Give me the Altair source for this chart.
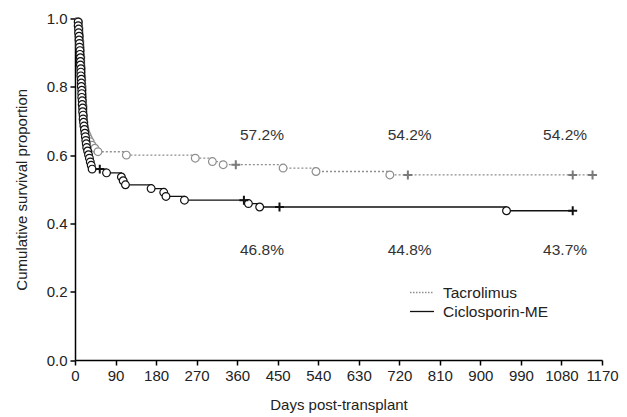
import altair as alt
import pandas as pd

# ---------------- data ----------------
x_ticks = [0, 90, 180, 270, 360, 450, 540, 630, 720, 810, 900, 990, 1080, 1170]
y_ticks = [0.0, 0.2, 0.4, 0.6, 0.8, 1.0]

tacro_event_days = [8, 8, 9, 9, 10, 10, 11, 11, 12, 12,
                    12, 13, 13, 13, 14, 14, 14, 15, 15, 15,
                    16, 16, 16, 17, 17, 17, 18, 18, 18, 19,
                    19, 20, 20, 22, 24, 27, 30, 34, 38, 44, 51,
                    114, 267, 305, 329, 462, 535, 699]
tacro_event_surv = [0.990, 0.981, 0.971, 0.962, 0.952, 0.943, 0.933, 0.924, 0.914, 0.905,
                    0.895, 0.886, 0.876, 0.867, 0.857, 0.848, 0.838, 0.829, 0.819, 0.810,
                    0.800, 0.791, 0.781, 0.772, 0.762, 0.753, 0.743, 0.734, 0.724, 0.715,
                    0.705, 0.696, 0.686, 0.677, 0.667, 0.658, 0.648, 0.639, 0.629, 0.620, 0.610,
                    0.600, 0.591, 0.581, 0.572, 0.562, 0.552, 0.542]
tacro_censor_days = [357, 739, 1105, 1149]
tacro_censor_surv = [0.572, 0.542, 0.542, 0.542]

ciclo_event_days = [7, 7, 8, 8, 9, 9, 10, 10, 11, 11,
                    12, 12, 12, 13, 13, 13, 14, 14, 14, 15,
                    15, 15, 16, 16, 17, 17, 18, 18, 19, 20,
                    21, 22, 23, 24, 25, 26, 28, 30, 32, 34, 36, 38,
                    70, 103, 107, 112, 169, 197, 202, 243, 385, 410, 958]
ciclo_event_surv = [0.990, 0.979, 0.969, 0.958, 0.948, 0.937, 0.927, 0.916, 0.906, 0.895,
                    0.885, 0.874, 0.864, 0.853, 0.843, 0.832, 0.822, 0.811, 0.801, 0.790,
                    0.780, 0.769, 0.759, 0.748, 0.738, 0.727, 0.717, 0.706, 0.696, 0.685,
                    0.675, 0.664, 0.654, 0.643, 0.633, 0.622, 0.612, 0.601, 0.591, 0.580,
                    0.570, 0.559,
                    0.548, 0.536, 0.525, 0.513, 0.502, 0.491, 0.479, 0.468, 0.458, 0.448, 0.437]
ciclo_censor_days = [55, 375, 454, 1105]
ciclo_censor_surv = [0.559, 0.468, 0.448, 0.437]

label_days = [415, 743, 1088]
tacro_labels = ["57.2%", "54.2%", "54.2%"]
ciclo_labels = ["46.8%", "44.8%", "43.7%"]
tacro_label_y = 0.659
ciclo_label_y = 0.322

series_names = ["Tacrolimus", "Ciclosporin-ME"]

# ---------------- styling ----------------
TAC = "#8e8e8e"
CIC = "#111111"
FONT = "Liberation Sans"
W, H = 527, 341.5

xs = alt.Scale(domain=[0, 1170], nice=False)
ys = alt.Scale(domain=[0, 1], nice=False)


def curve(days, surv, cdays, csurv):
    pts = [(0, 1.0)] + list(zip(days, surv)) + list(zip(cdays, csurv))
    pts.sort(key=lambda p: (p[0], -p[1]))
    return pd.DataFrame(pts, columns=["day", "surv"])


tac_line_df = curve(tacro_event_days, tacro_event_surv, tacro_censor_days, tacro_censor_surv)
cic_line_df = curve(ciclo_event_days, ciclo_event_surv, ciclo_censor_days, ciclo_censor_surv)
tac_ev = pd.DataFrame({"day": tacro_event_days, "surv": tacro_event_surv})
cic_ev = pd.DataFrame({"day": ciclo_event_days, "surv": ciclo_event_surv})
tac_ce = pd.DataFrame({"day": tacro_censor_days, "surv": tacro_censor_surv})
cic_ce = pd.DataFrame({"day": ciclo_censor_days, "surv": ciclo_censor_surv})

X = alt.X("day:Q", scale=xs, axis=alt.Axis(values=x_ticks, format="d", title="Days post-transplant",
                                            labelFlush=False, titlePadding=14, grid=False))
Y = alt.Y("surv:Q", scale=ys, axis=alt.Axis(values=y_ticks, format=".1f",
                                             title="Cumulative survival proportion",
                                             titlePadding=17, grid=False))

cic_line = alt.Chart(cic_line_df).mark_line(interpolate="step-after", color=CIC,
                                            strokeWidth=1.3).encode(x=X, y=Y)
tac_line = alt.Chart(tac_line_df).mark_line(interpolate="step-after", color=TAC,
                                            strokeWidth=1.4, strokeDash=[2, 2]).encode(x="day:Q", y="surv:Q")

tac_pts = alt.Chart(tac_ev).mark_point(shape="circle", filled=True, fill="white", stroke=TAC,
                                       strokeWidth=1.2, size=60, opacity=1).encode(x="day:Q", y="surv:Q")
cic_pts = alt.Chart(cic_ev).mark_point(shape="circle", filled=True, fill="white", stroke=CIC,
                                       strokeWidth=1.2, size=60, opacity=1).encode(x="day:Q", y="surv:Q")

plus = "M-1,0H1M0,-1V1"
tac_cross = alt.Chart(tac_ce).mark_point(shape=plus, filled=False, stroke="#7a7a7a",
                                         strokeWidth=2, size=80, opacity=1).encode(x="day:Q", y="surv:Q")
cic_cross = alt.Chart(cic_ce).mark_point(shape=plus, filled=False, stroke=CIC,
                                         strokeWidth=2, size=80, opacity=1).encode(x="day:Q", y="surv:Q")

lab_df = pd.DataFrame({
    "day": label_days + label_days,
    "surv": [tacro_label_y] * 3 + [ciclo_label_y] * 3,
    "txt": tacro_labels + ciclo_labels,
})
labels = alt.Chart(lab_df).mark_text(font=FONT, fontSize=15.5, color="#333333").encode(
    x="day:Q", y="surv:Q", text="txt:N")

# manual legend
leg_df = pd.DataFrame({"name": series_names})
leg_tac_line = alt.Chart(leg_df).transform_filter(alt.datum.name == series_names[0]).mark_rule(
    color=TAC, strokeWidth=1.3, strokeDash=[1.5, 1.5]).encode(
    x=alt.value(335), x2=alt.value(359), y=alt.value(274))
leg_cic_line = alt.Chart(leg_df).transform_filter(alt.datum.name == series_names[1]).mark_rule(
    color=CIC, strokeWidth=1.3).encode(
    x=alt.value(335), x2=alt.value(359), y=alt.value(293))
leg_tac_txt = alt.Chart(leg_df).transform_filter(alt.datum.name == series_names[0]).mark_text(
    font=FONT, fontSize=15.5, color="#222222", align="left", baseline="middle").encode(
    x=alt.value(368), y=alt.value(274), text="name:N")
leg_cic_txt = alt.Chart(leg_df).transform_filter(alt.datum.name == series_names[1]).mark_text(
    font=FONT, fontSize=15.5, color="#222222", align="left", baseline="middle").encode(
    x=alt.value(368), y=alt.value(293), text="name:N")

chart = alt.layer(
    cic_line, tac_line, tac_pts, cic_pts, tac_cross, cic_cross, labels,
    leg_tac_line, leg_cic_line, leg_tac_txt, leg_cic_txt,
).properties(
    width=W, height=H,
    background="white",
    autosize=alt.AutoSizeParams(type="none"),
    padding={"left": 67, "top": 10.5, "right": 17, "bottom": 57},
).configure_view(stroke=None).configure_axis(
    grid=False, domainColor="#000000", domainWidth=1.5, tickColor="#000000", tickWidth=1.5,
    tickSize=5, labelFont=FONT, labelFontSize=15, labelColor="#222222", labelPadding=3,
    titleFont=FONT, titleFontSize=15, titleFontWeight="normal", titleColor="#222222",
)

chart.save("out.html", embed_options={"renderer": "svg", "actions": False})
